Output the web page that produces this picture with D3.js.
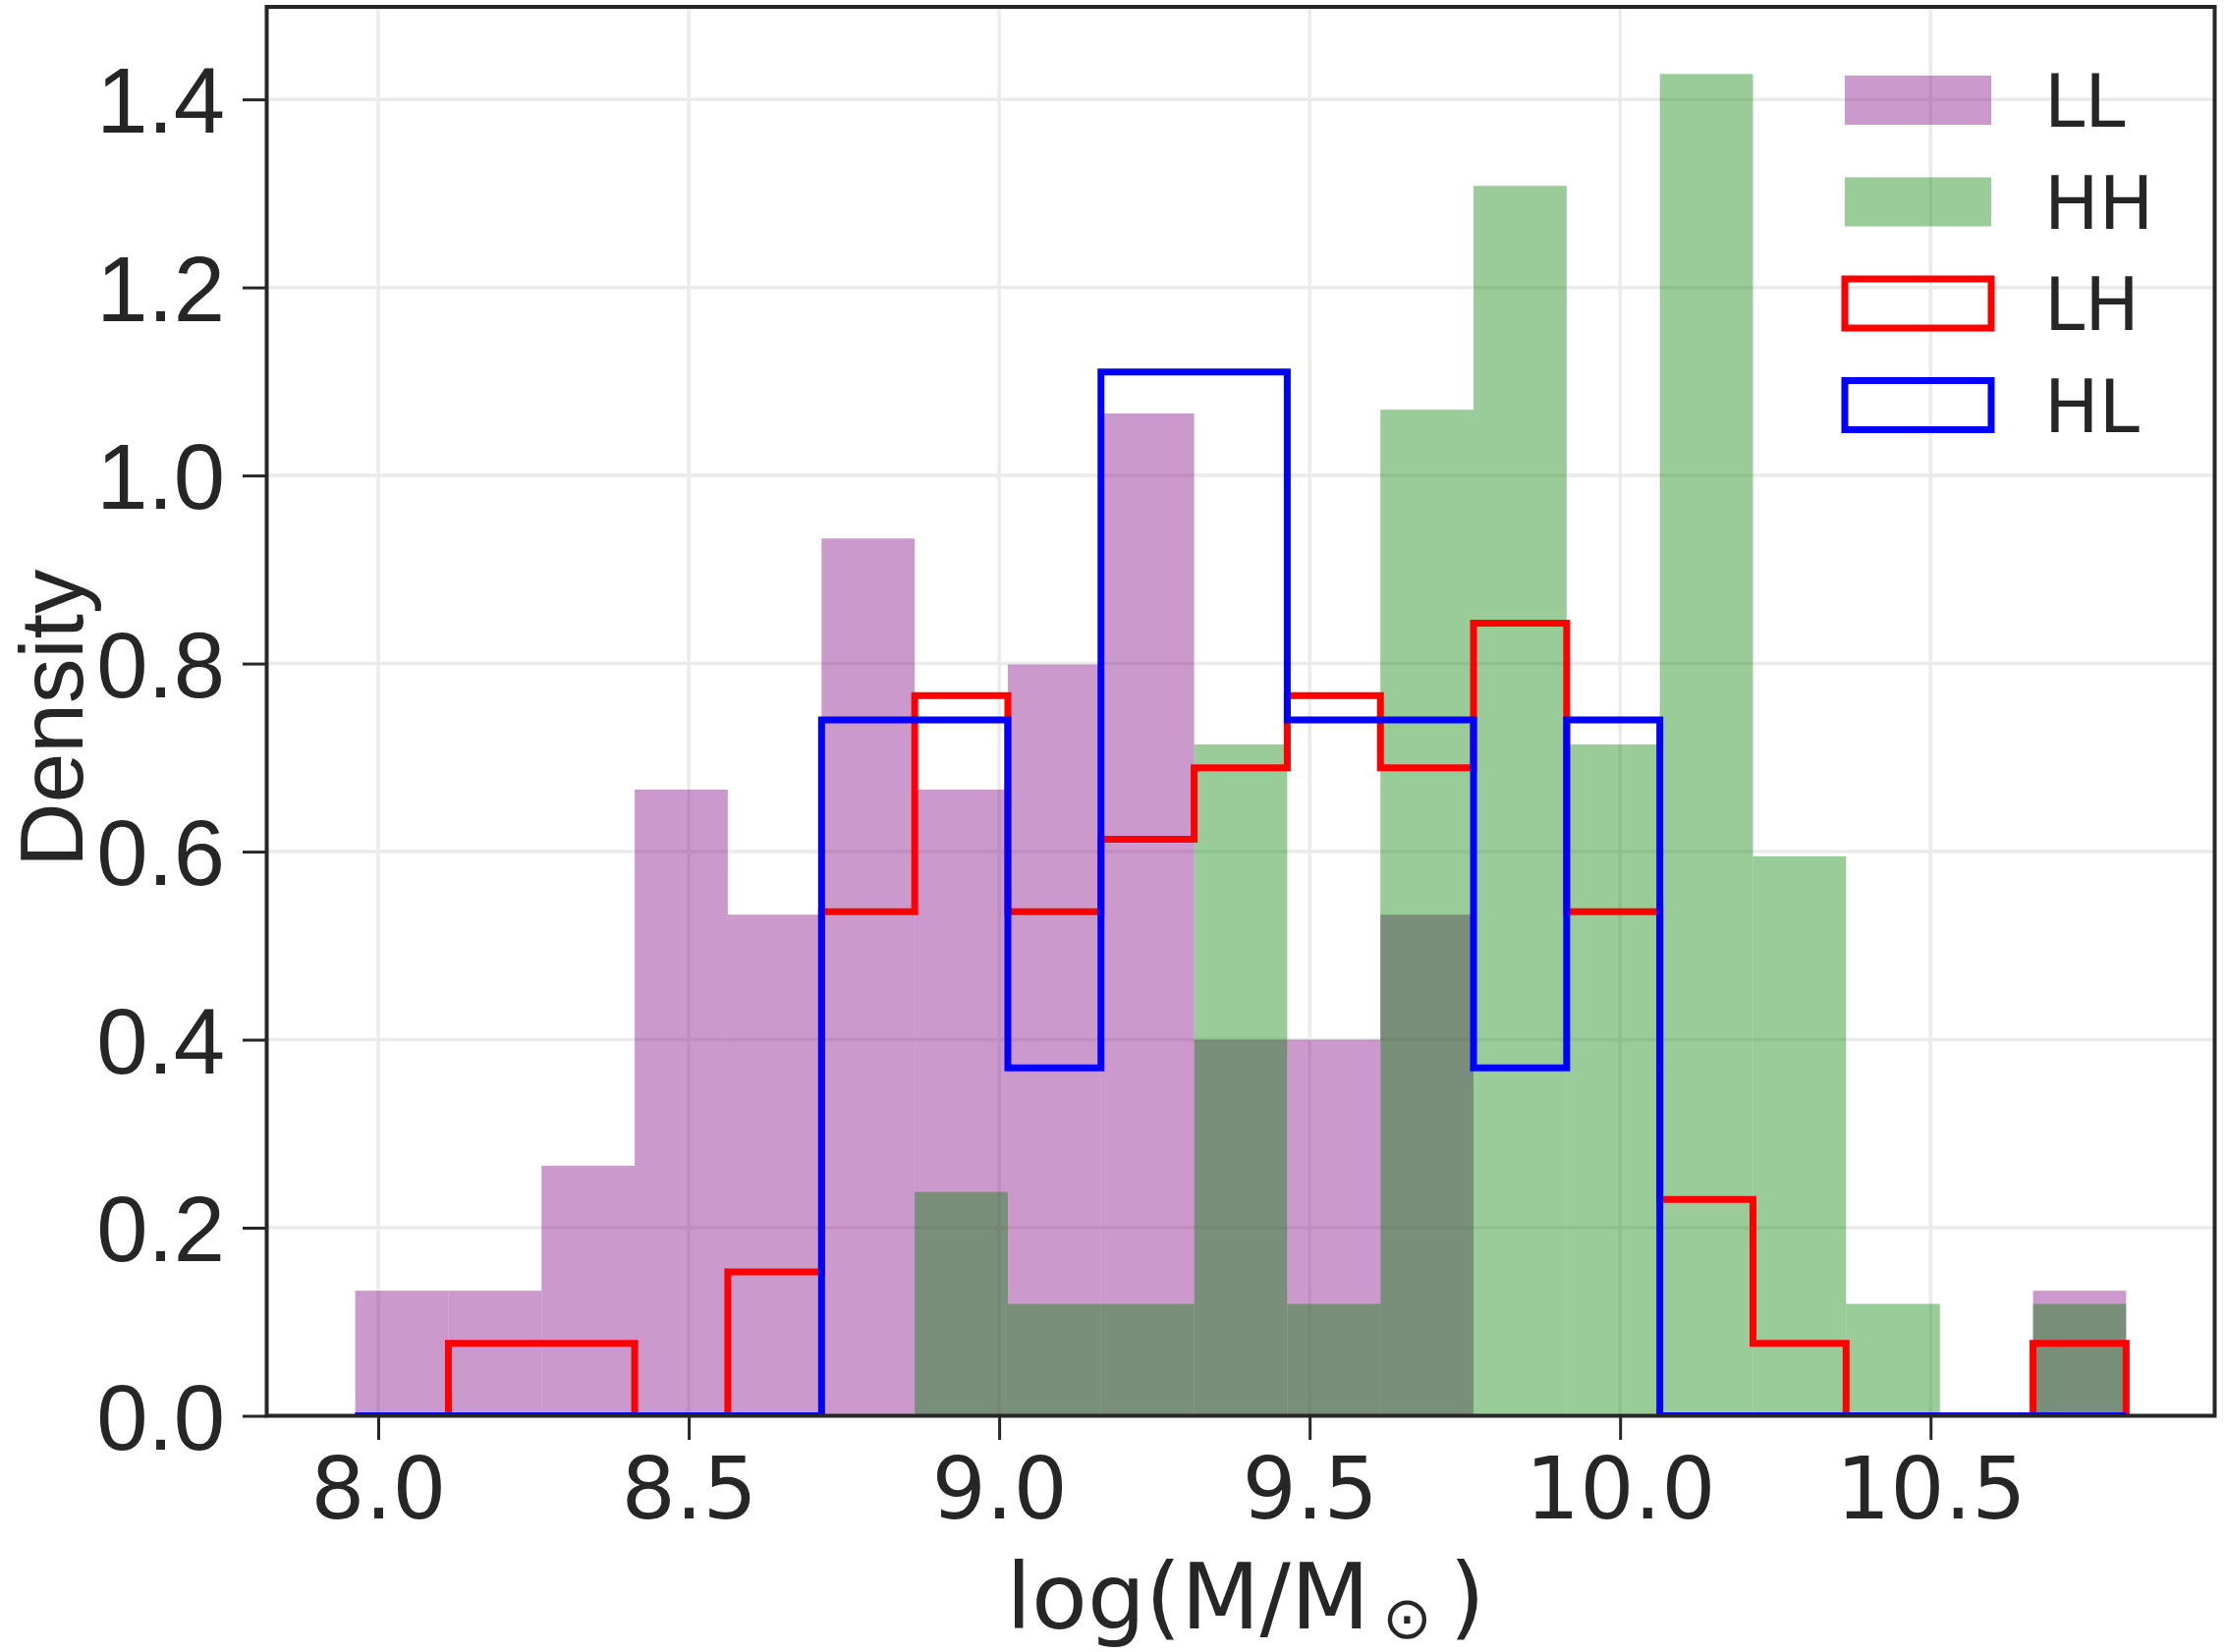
<!DOCTYPE html>
<html>
<head>
<meta charset="utf-8">
<script src="https://cdn.jsdelivr.net/npm/d3@7"></script>
<style>
  body { margin: 0; background: #fff; }
  svg { display: block; }
</style>
</head>
<body>
<div id="chart"></div>
<script>
// Bin edges shared by the four histograms (log stellar mass).
const binEdges = [7.963, 8.113, 8.263, 8.413, 8.563, 8.714, 8.864, 9.014, 9.164, 9.314,
  9.464, 9.614, 9.764, 9.914, 10.064, 10.214, 10.364, 10.515, 10.665, 10.815];

// Density in each bin.
const densLL = [0.133, 0.133, 0.266, 0.666, 0.533, 0.933, 0.666, 0.799, 1.066, 0.400,
  0.400, 0.533, 0, 0, 0, 0, 0, 0, 0.133];
const densHH = [0, 0, 0, 0, 0, 0, 0.238, 0.119, 0.119, 0.714,
  0.119, 1.070, 1.308, 0.714, 1.427, 0.595, 0.119, 0, 0.119];
const densLH = [0, 0.077, 0.077, 0, 0.153, 0.536, 0.766, 0.536, 0.613, 0.689,
  0.766, 0.689, 0.843, 0.536, 0.230, 0.077, 0, 0, 0.077];
const densHL = [0, 0, 0, 0, 0, 0.740, 0.740, 0.370, 1.110, 1.110,
  0.740, 0.740, 0.370, 0.740, 0, 0, 0, 0, 0];

const seriesNames = ["LL", "HH", "LH", "HL"];
const xTicks = [8.0, 8.5, 9.0, 9.5, 10.0, 10.5];
const yTicks = [0.0, 0.2, 0.4, 0.6, 0.8, 1.0, 1.2, 1.4];

// Figure size and the plot box.
const width = 2265, height = 1682;
const plot = { left: 271.5, top: 7, right: 2254.5, bottom: 1441.5 };
const ink = "#262626";

const svg = d3.select("#chart").append("svg")
  .attr("width", width)
  .attr("height", height);

// matplotlib-like 5% margins on x, y from 0 to 1.05 * max.
const lo = binEdges[0], hi = binEdges[binEdges.length - 1];
const pad = (hi - lo) * 0.05;
const x = d3.scaleLinear().domain([lo - pad, hi + pad]).range([plot.left, plot.right]);
const yMax = d3.max([densLL, densHH, densLH, densHL].flat()) * 1.05;
const y = d3.scaleLinear().domain([0, yMax]).range([plot.bottom, plot.top]);

svg.append("clipPath").attr("id", "clip")
  .append("rect")
  .attr("x", plot.left).attr("y", plot.top)
  .attr("width", plot.right - plot.left)
  .attr("height", plot.bottom - plot.top);

// Grid
const grid = svg.append("g").attr("stroke", "#ebebeb").attr("stroke-width", 3.5);
grid.selectAll(".gx").data(xTicks).enter().append("line")
  .attr("x1", d => x(d)).attr("x2", d => x(d))
  .attr("y1", plot.top).attr("y2", plot.bottom);
grid.selectAll(".gy").data(yTicks).enter().append("line")
  .attr("x1", plot.left).attr("x2", plot.right)
  .attr("y1", d => y(d)).attr("y2", d => y(d));

const body = svg.append("g").attr("clip-path", "url(#clip)");

// Filled histograms
function bars(values, color) {
  const bins = values.map((v, i) => ({ x0: binEdges[i], x1: binEdges[i + 1], v: v }))
    .filter(d => d.v > 0);
  body.append("g").selectAll("rect")
    .data(bins)
    .enter().append("rect")
    .attr("x", d => x(d.x0))
    .attr("width", d => x(d.x1) - x(d.x0))
    .attr("y", d => y(d.v))
    .attr("height", d => y(0) - y(d.v))
    .attr("fill", color)
    .attr("fill-opacity", 0.4);
}
bars(densLL, "purple");
bars(densHH, "green");

// Step histograms
const stepLine = d3.line().x(d => x(d[0])).y(d => y(d[1]));
function steps(values, color) {
  const pts = [[binEdges[0], 0]];
  values.forEach((v, i) => {
    pts.push([binEdges[i], v]);
    pts.push([binEdges[i + 1], v]);
  });
  pts.push([binEdges[binEdges.length - 1], 0]);
  body.append("path")
    .attr("d", stepLine(pts))
    .attr("fill", "none")
    .attr("stroke", color)
    .attr("stroke-width", 7)
    .attr("stroke-linejoin", "miter");
}
steps(densLH, "red");
steps(densHL, "blue");

// Axes
const xAxis = svg.append("g")
  .attr("transform", "translate(0," + plot.bottom + ")")
  .call(d3.axisBottom(x).tickValues(xTicks).tickFormat(d3.format(".1f"))
    .tickSize(24.5).tickPadding(18));
xAxis.select(".domain").remove();
xAxis.selectAll("line").attr("stroke", ink).attr("stroke-width", 3);
xAxis.selectAll("text")
  .attr("fill", ink)
  .style("font-family", "'DejaVu Sans'")
  .style("font-size", "87px");

const yAxis = svg.append("g")
  .attr("transform", "translate(" + plot.left + ",0)")
  .call(d3.axisLeft(y).tickValues(yTicks).tickFormat(d3.format(".1f"))
    .tickSize(24.5).tickPadding(18));
yAxis.select(".domain").remove();
yAxis.selectAll("line").attr("stroke", ink).attr("stroke-width", 3);
yAxis.selectAll("text")
  .attr("fill", ink)
  .attr("dy", "0.357em")
  .style("font-family", "'Liberation Sans', Arial")
  .style("font-size", "94px");

// Spines
svg.append("rect")
  .attr("x", plot.left).attr("y", plot.top)
  .attr("width", plot.right - plot.left)
  .attr("height", plot.bottom - plot.top)
  .attr("fill", "none")
  .attr("stroke", ink)
  .attr("stroke-width", 4);

// Axis labels
const xLabel = svg.append("text")
  .attr("x", (plot.left + plot.right) / 2 + 5)
  .attr("y", 1658)
  .attr("text-anchor", "middle")
  .attr("fill", ink)
  .style("font-family", "'DejaVu Sans'")
  .style("font-size", "93px");
xLabel.append("tspan").text("log(M/M");
xLabel.append("tspan").attr("dx", 13).attr("dy", 10).style("font-size", "60px").text("\u2299");
xLabel.append("tspan").attr("dx", 18).attr("dy", -10).text(")");

svg.append("text")
  .attr("transform", "translate(84," + ((plot.top + plot.bottom) / 2 + 7) + ") rotate(-90)")
  .attr("text-anchor", "middle")
  .attr("fill", ink)
  .style("font-family", "'Liberation Sans', Arial")
  .style("font-size", "91px")
  .text("Density");

// Legend, no frame
const legendStyles = [
  { fill: "purple", opacity: 0.4, stroke: "none" },
  { fill: "green", opacity: 0.4, stroke: "none" },
  { fill: "none", opacity: 1, stroke: "red" },
  { fill: "none", opacity: 1, stroke: "blue" }
];
const legend = svg.append("g").attr("transform", "translate(1878,77)");
const rows = legend.selectAll("g")
  .data(seriesNames)
  .enter().append("g")
  .attr("transform", (d, i) => "translate(0," + (i * 103.5) + ")");
rows.append("rect")
  .attr("width", 149).attr("height", 50)
  .attr("fill", (d, i) => legendStyles[i].fill)
  .attr("fill-opacity", (d, i) => legendStyles[i].opacity)
  .attr("stroke", (d, i) => legendStyles[i].stroke)
  .attr("stroke-width", 7);
rows.append("text")
  .attr("x", 203)
  .attr("y", 52)
  .attr("fill", ink)
  .style("font-family", "'DejaVu Sans'")
  .style("font-size", "74px")
  .text(d => d);
</script>
</body>
</html>
